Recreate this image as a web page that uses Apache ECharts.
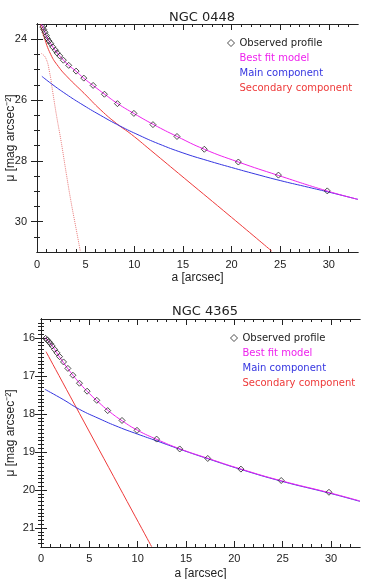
<!DOCTYPE html>
<html>
<head>
<meta charset="utf-8">
<script src="https://cdn.jsdelivr.net/npm/echarts@6/dist/echarts.min.js"></script>
<style>
html, body { margin: 0; padding: 0; background: #fff; }
#chart { width: 368px; height: 579px; }
</style>
</head>
<body>
<div id="chart"></div>
<script>
// NGC 0448: [a (arcsec), mu (mag arcsec^-2)]
const obs448 = [[0.59,23.60],[0.69,23.68],[0.82,23.77],[0.96,23.88],[1.06,23.97],[1.24,24.06],[1.41,24.14],[1.61,24.25],[1.89,24.36],[2.06,24.45],[2.34,24.55],[2.71,24.69],[3.26,24.86],[4.02,25.05],[4.81,25.28],[5.77,25.52],[6.93,25.81],[8.27,26.12],[9.96,26.44],[11.92,26.81],[14.39,27.20],[17.2,27.62],[20.7,28.04],[24.82,28.47],[29.84,28.99]];
const fit448 = [[0.45,23.50],[0.6,23.6],[0.8,23.76],[1.0,23.93],[1.4,24.14],[2.0,24.42],[2.7,24.68],[3.3,24.87],[4.0,25.05],[4.8,25.28],[5.8,25.53],[7.0,25.82],[8.3,26.12],[10,26.45],[12,26.81],[14.4,27.2],[17.2,27.62],[20.7,28.04],[24.8,28.48],[29.8,28.99],[33,29.27]];
const main448 = [[0.5,25.22],[1.5,25.47],[3,25.81],[4.5,26.12],[6.5,26.5],[8.5,26.85],[10.5,27.16],[12.5,27.44],[15,27.74],[17.5,27.99],[20,28.22],[22.5,28.44],[25,28.65],[27.5,28.84],[30,29.03],[33,29.27]];
const sec448 = [[0.35,23.52],[0.72,23.92],[1.41,24.5],[2.2,24.9],[3.12,25.24],[4.84,25.78],[6.56,26.33],[8.2,26.78],[9.7,27.13],[11.64,27.64],[15.14,28.57],[20,29.86],[24.13,30.97]];
const secDot448 = [[0.45,24.47],[0.9,24.62],[1.3,25.1],[1.6,25.7],[2.0,26.5],[2.5,27.4],[3.0,28.4],[3.5,29.35],[4.0,30.2],[4.45,30.97]];

// NGC 4365
const obs4365 = [[0.48,16.01],[0.65,16.05],[0.82,16.10],[0.99,16.15],[1.16,16.21],[1.40,16.30],[1.65,16.39],[1.92,16.49],[2.33,16.63],[2.78,16.80],[3.30,16.98],[3.98,17.19],[4.77,17.40],[5.77,17.64],[6.90,17.91],[8.38,18.17],[9.93,18.43],[11.96,18.66],[14.35,18.92],[17.25,19.17],[20.68,19.45],[24.85,19.75],[29.79,20.06]];
const fit4365 = [[0.4,15.99],[1,16.15],[2,16.53],[3,16.88],[4,17.19],[5,17.46],[6,17.7],[7,17.92],[8.4,18.18],[10,18.43],[12,18.67],[14.4,18.92],[17.3,19.17],[20.7,19.45],[24.9,19.76],[29.8,20.07],[33,20.29]];
const main4365 = [[0.4,17.35],[2.3,17.62],[4,17.88],[6,18.12],[8,18.34],[10,18.53],[12,18.71],[14.4,18.93],[17.3,19.18],[20.7,19.46],[24.9,19.77],[29.8,20.08],[33,20.3]];
const sec4365 = [[0.52,16.36],[11.44,21.49]];

// ticks
const xMajor = [0, 5, 10, 15, 20, 25, 30];
const xMinor = [1,2,3,4,6,7,8,9,11,12,13,14,16,17,18,19,21,22,23,24,26,27,28,29,31,32];
const yMajor448 = [24, 26, 28, 30];
const yMinor448 = [24.5,25,25.5,26.5,27,27.5,28.5,29,29.5,30.5];
const yMajor4365 = [16, 17, 18, 19, 20, 21];
const yMinor4365 = [];
for (let i = 156; i <= 214; i++) {
    if (i % 10 !== 0) yMinor4365.push(i / 10);
}

const C_FIT = '#ee22ee';
const C_MAIN = '#3535e0';
const C_SEC = '#ee3a3a';
const FONT = 'Liberation Sans, Arial, sans-serif';
const WIDE = 'DejaVu Sans, sans-serif';
const INK = '#222';

function axisSet(dim, gridIndex, min, max, major, minor, inverse, name, nameGap, margin) {
    const sides = dim === 'x' ? ['bottom', 'top'] : ['left', 'right'];
    const out = [];
    sides.forEach((pos, i) => {
        [major, minor].forEach((vals, j) => {
            const main = i === 0 && j === 0;
            out.push({
                type: 'value',
                gridIndex: gridIndex,
                position: pos,
                min: min,
                max: max,
                inverse: inverse,
                name: main ? name : '',
                nameLocation: 'middle',
                nameGap: nameGap,
                nameMoveOverlap: false,
                nameRotate: dim === 'y' ? 90 : 0,
                nameTextStyle: { fontFamily: FONT, fontSize: 12, color: INK },
                axisLine: { show: true, lineStyle: { color: INK, width: 1 } },
                axisTick: { show: true, inside: true, length: j === 0 ? 6 : 3, customValues: vals, lineStyle: { color: INK, width: 1 } },
                axisLabel: { show: main, customValues: major, margin: margin, fontFamily: FONT, fontSize: 11, color: INK },
                splitLine: { show: false },
                minorTick: { show: false }
            });
        });
    });
    return out;
}

function lineSeries(name, data, color, gi, dotted) {
    return {
        name: name,
        type: 'line',
        xAxisIndex: gi * 4,
        yAxisIndex: gi * 4,
        data: data,
        smooth: true,
        showSymbol: false,
        lineStyle: { color: color, width: 1, type: dotted ? 'dotted' : 'solid' },
        itemStyle: { color: color },
        z: 2
    };
}

function obsSeries(data, gi) {
    return {
        name: 'Observed profile',
        type: 'scatter',
        xAxisIndex: gi * 4,
        yAxisIndex: gi * 4,
        data: data,
        symbol: 'diamond',
        symbolSize: 6,
        itemStyle: { color: 'rgba(0,0,0,0)', borderColor: INK, borderWidth: 1 },
        z: 5
    };
}

const hidden = { opacity: 0 };
function legendFor(left, top) {
    return {
        left: left,
        top: top,
        padding: 0,
        orient: 'vertical',
        itemWidth: 7,
        itemHeight: 7,
        itemGap: 3,
        selectedMode: false,
        textStyle: { fontFamily: WIDE, fontSize: 10, lineHeight: 12 },
        data: [
            { name: 'Observed profile', icon: 'diamond', itemStyle: { color: '#fff', borderColor: INK, borderWidth: 1 }, textStyle: { color: INK } },
            { name: 'Best fit model', icon: 'rect', itemStyle: hidden, lineStyle: hidden, textStyle: { color: C_FIT } },
            { name: 'Main component', icon: 'rect', itemStyle: hidden, lineStyle: hidden, textStyle: { color: C_MAIN } },
            { name: 'Secondary component', icon: 'rect', itemStyle: hidden, lineStyle: hidden, textStyle: { color: C_SEC } }
        ]
    };
}

const chart = echarts.init(document.getElementById('chart'));
const yName = 'μ [mag arcsec⁻²]';
const titleStyle = { fontFamily: WIDE, fontSize: 13, fontWeight: 'normal', color: INK };

chart.setOption({
    animation: false,
    title: [
        { text: 'NGC 0448', left: 197, top: 6, textAlign: 'center', textStyle: titleStyle },
        { text: 'NGC 4365', left: 200, top: 300, textAlign: 'center', textStyle: titleStyle }
    ],
    legend: [legendFor(227, 37), legendFor(230, 332)],
    grid: [
        { left: 37, top: 24, width: 321, height: 228, outerBoundsMode: 'none' },
        { left: 41, top: 319, width: 319, height: 228, outerBoundsMode: 'none' }
    ],
    xAxis: [].concat(
        axisSet('x', 0, 0, 33, xMajor, xMinor, false, 'a [arcsec]', 20, 7),
        axisSet('x', 1, 0, 33, xMajor, xMinor, false, 'a [arcsec]', 21, 6)
    ),
    yAxis: [].concat(
        axisSet('y', 0, 23.5, 31, yMajor448, yMinor448, true, yName, 20, 10),
        axisSet('y', 1, 15.5, 21.5, yMajor4365, yMinor4365, true, yName, 24, 6)
    ),
    series: [
        lineSeries('Secondary component', secDot448, '#e87878', 0, true),
        lineSeries('Secondary component', sec448, C_SEC, 0, false),
        lineSeries('Main component', main448, C_MAIN, 0, false),
        lineSeries('Best fit model', fit448, C_FIT, 0, false),
        obsSeries(obs448, 0),
        lineSeries('Secondary component', sec4365, C_SEC, 1, false),
        lineSeries('Main component', main4365, C_MAIN, 1, false),
        lineSeries('Best fit model', fit4365, C_FIT, 1, false),
        obsSeries(obs4365, 1)
    ]
});
</script>
</body>
</html>
